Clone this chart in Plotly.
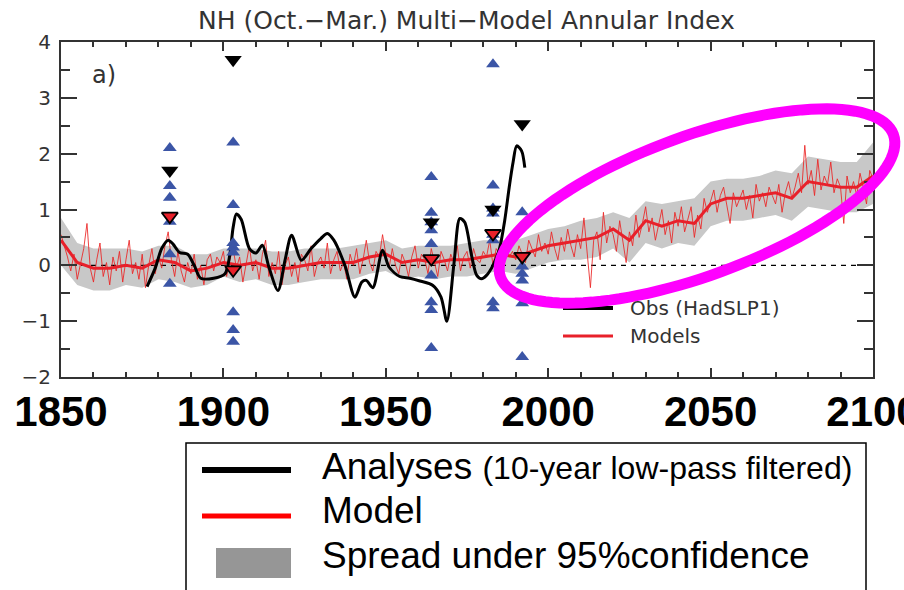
import math
import plotly.graph_objects as go

# ---------------- data ----------------
years_annual = list(range(1850, 2101))
model_annual = [
    0.55, 0.35, 0.15, -0.10, 0.20, -0.25, 0.05, 0.30, 0.75, -0.05,
    -0.30, 0.10, 0.40, -0.20, 0.05, -0.35, 0.15, -0.10, 0.25, -0.30,
    0.10, 0.45, -0.15, 0.05, -0.25, 0.20, -0.40, 0.00, 0.30, -0.15,
    0.15, -0.05, 0.35, 0.60, 0.10, -0.20, 0.25, -0.10, -0.30, 0.05,
    -0.15, 0.20, -0.25, 0.00, -0.35, 0.10, 0.20, -0.10, 0.15, 0.05,
    0.25, -0.20, 0.10, 0.30, -0.05, 0.15, -0.30, 0.05, 0.35, -0.10,
    0.10, -0.25, 0.20, 0.45, -0.20, 0.05, -0.15, 0.25, -0.35, 0.00,
    0.15, -0.20, 0.05, -0.30, 0.20, 0.10, -0.10, 0.35, -0.20, 0.05,
    0.15, -0.05, 0.40, -0.15, 0.10, 0.25, -0.10, 0.05, -0.25, 0.20,
    0.00, 0.30, -0.15, 0.10, 0.45, 0.05, -0.10, 0.25, 0.15, 0.55,
    0.20, -0.05, 0.30, 0.00, -0.15, 0.20, 0.05, -0.20, 0.15, 0.35,
    -0.05, 0.20, 0.10, -0.15, 0.30, 0.05, -0.20, 0.25, 0.10, -0.10,
    0.20, 0.05, 0.35, -0.10, 0.15, 0.25, -0.05, 0.30, 0.10, 0.05,
    0.25, 0.15, 0.45, 0.00, 0.30, 0.20, 0.05, 0.40, 0.15, 0.25,
    0.10, 0.35, 0.20, 0.05, 0.45, 0.30, 0.15, 0.55, 0.25, 0.40,
    0.20, 0.60, 0.30, 0.10, 0.50, 0.25, 0.65, 0.35, 0.15, 0.55,
    0.30, 0.85, 0.20, -0.40, 0.45, 0.60, 0.10, 0.95, 0.40, 0.70,
    0.55, 0.25, 0.80, 0.45, 0.05, 0.60, 0.35, 0.90, 0.50, 0.75,
    1.05, 0.60, 0.85, 0.45, 0.70, 1.00, 0.55, 0.80, 0.40, 0.95,
    0.70, 1.05, 0.60, 0.85, 1.05, 0.50, 0.90, 0.65, 1.20, 0.95,
    1.15, 1.35, 0.95, 1.25, 1.40, 1.10, 0.75, 1.30, 1.05, 1.20,
    1.35, 1.00, 1.25, 0.85, 1.45, 1.15, 1.30, 1.05, 1.40, 1.25,
    1.10, 1.45, 0.95, 1.30, 1.50, 1.20, 1.40, 1.65, 1.30, 2.15,
    1.45, 1.70, 1.25, 1.90, 1.35, 1.60, 1.45, 1.85, 1.30, 1.55,
    1.40, 0.75, 1.60, 1.30, 1.50, 1.25, 1.65, 1.40, 1.10, 1.70,
    1.55,
]

years5 = list(range(1850, 2101, 5))
model_smooth = [
    0.45, 0.05, -0.05, -0.05, 0.00, -0.05, 0.10, 0.05, -0.10, -0.05,
    0.05, 0.00, 0.05, -0.05, -0.05, 0.00, 0.05, 0.05, 0.05, 0.15,
    0.20, 0.05, 0.10, 0.05, 0.10, 0.10, 0.15, 0.20, 0.15, 0.25,
    0.35, 0.40, 0.45, 0.50, 0.65, 0.45, 0.80, 0.70, 0.80, 0.75,
    1.10, 1.20, 1.20, 1.25, 1.30, 1.20, 1.50, 1.45, 1.40, 1.40,
    1.60,
]
band_upper = [
    0.85, 0.40, 0.30, 0.30, 0.30, 0.25, 0.35, 0.35, 0.20, 0.20,
    0.30, 0.30, 0.30, 0.25, 0.25, 0.30, 0.30, 0.30, 0.35, 0.40,
    0.45, 0.30, 0.35, 0.35, 0.35, 0.40, 0.45, 0.45, 0.45, 0.55,
    0.65, 0.70, 0.80, 0.85, 0.95, 0.85, 1.15, 1.10, 1.15, 1.20,
    1.50, 1.55, 1.55, 1.60, 1.70, 1.65, 1.95, 1.90, 1.85, 1.85,
    2.20,
]
band_lower = [
    0.00, -0.35, -0.45, -0.45, -0.35, -0.40, -0.25, -0.30, -0.40, -0.35,
    -0.20, -0.30, -0.25, -0.35, -0.35, -0.30, -0.25, -0.25, -0.25, -0.15,
    -0.10, -0.25, -0.20, -0.25, -0.20, -0.20, -0.15, -0.10, -0.15, -0.05,
    0.05, 0.10, 0.10, 0.15, 0.30, 0.05, 0.40, 0.30, 0.40, 0.35,
    0.70, 0.80, 0.80, 0.85, 0.90, 0.80, 1.05, 1.00, 0.95, 0.95,
    1.10,
]

obs_years = [1876.5, 1879, 1881, 1883, 1884.5, 1886.5, 1889, 1891, 1893, 1897,
             1900.5, 1902, 1903, 1904, 1905.5, 1908, 1910, 1912, 1914, 1916.8,
             1919, 1921, 1924, 1927, 1930, 1932, 1934, 1937.4, 1940.5, 1942.6,
             1944, 1946, 1949, 1951, 1954.3, 1957.4, 1960.5, 1964.5, 1967, 1968.8,
             1971, 1972.8, 1974.3, 1976.5, 1978, 1979.5, 1981, 1983, 1985, 1986.6,
             1988, 1989.2, 1990.3, 1991.8, 1992.8]
obs_vals = [-0.38, -0.05, 0.30, 0.45, 0.38, 0.23, 0.20, 0.00, -0.23, -0.23,
            -0.15, 0.20, 0.68, 0.92, 0.82, 0.30, 0.22, 0.36, -0.03, -0.45,
            0.10, 0.54, 0.09, 0.30, 0.48, 0.57, 0.45, 0.00, -0.57, -0.30,
            -0.27, -0.40, 0.27, -0.03, -0.20, -0.23, -0.28, -0.36, -0.57, -1.00,
            0.04, 0.84, 0.77, 0.15, -0.18, -0.24, -0.18, 0.00, 0.30, 0.80,
            1.40, 1.85, 2.14, 2.05, 1.75]

blue_years = ([1883.5] * 6 + [1903] * 8 + [1964] * 9 + [1983] * 8 + [1992] * 6)
blue_vals = [2.10, 1.42, 1.21, 0.78, 0.20, -0.33,
             2.20, 1.08, 0.40, 0.32, 0.23, -0.84, -1.16, -1.37,
             1.58, 0.94, 0.77, 0.63, 0.38, -0.18, -0.66, -0.80, -1.48,
             3.60, 1.43, 1.02, 0.93, 0.45, -0.66, -0.77, 0.55,
             0.95, -0.02, -0.15, -0.27, -0.68, -1.64]
black_years = [1883.5, 1903, 1964, 1983, 1992]
black_vals = [1.70, 3.68, 0.77, 1.00, 2.53]
red_years = [1883.5, 1903, 1964, 1983, 1992]
red_vals = [0.88, -0.08, 0.12, 0.57, 0.16]

xtick_vals = [1850, 1900, 1950, 2000, 2050, 2100]
xtick_text = ["1850", "1900", "1950", "2000", "2050", "2100"]
ytick_vals = [-2, -1, 0, 1, 2, 3, 4]
ytick_text = ["\u22122", "\u22121", "0", "1", "2", "3", "4"]

# ---------------- layout helpers (pixel -> paper) ----------------
W, H = 904, 590
L, R, T, B = 61, 873, 42, 377


def px(x):
    return (x - L) / (R - L)


def py(y):
    return (B - y) / (B - T)


RED = "#e8202a"
BLUE = "#3b55a6"
TXT = "#333333"

fig = go.Figure()

# gray spread band
fig.add_trace(go.Scatter(
    x=years5 + years5[::-1], y=band_upper + band_lower[::-1],
    fill="toself", fillcolor="#c8c8c8", line=dict(width=0),
    mode="lines", hoverinfo="skip", showlegend=False))

# zero dashed line
fig.add_trace(go.Scatter(
    x=[xtick_vals[0], xtick_vals[-1]], y=[0, 0], mode="lines",
    line=dict(color="black", width=1.2, dash="5px,5px"),
    hoverinfo="skip", showlegend=False))

# annual model line
fig.add_trace(go.Scatter(
    x=years_annual, y=model_annual, mode="lines",
    line=dict(color="rgba(235,35,35,0.85)", width=1),
    showlegend=False))

# smoothed model line
fig.add_trace(go.Scatter(
    x=years5, y=model_smooth, mode="lines",
    line=dict(color=RED, width=3), showlegend=False))

# observations
fig.add_trace(go.Scatter(
    x=obs_years, y=obs_vals, mode="lines",
    line=dict(color="black", width=3, shape="spline", smoothing=0.8),
    showlegend=False))

# triangles
fig.add_trace(go.Scatter(
    x=blue_years, y=blue_vals, mode="markers",
    marker=dict(symbol="triangle-up", size=12, color=BLUE, line=dict(width=0)),
    showlegend=False))
fig.add_trace(go.Scatter(
    x=black_years, y=black_vals, mode="markers",
    marker=dict(symbol="triangle-down", size=15, color="black", line=dict(width=0)),
    showlegend=False))
fig.add_trace(go.Scatter(
    x=red_years, y=red_vals, mode="markers",
    marker=dict(symbol="triangle-down", size=14, color=RED,
                line=dict(width=1.8, color="black")),
    showlegend=False))

shapes = []
annotations = []

# inner legend (Obs / Models)
shapes.append(dict(type="line", xref="paper", yref="paper",
                   x0=px(563), x1=px(613), y0=py(308), y1=py(308),
                   line=dict(color="black", width=4)))
shapes.append(dict(type="line", xref="paper", yref="paper",
                   x0=px(563), x1=px(613), y0=py(336), y1=py(336),
                   line=dict(color=RED, width=3)))
annotations.append(dict(text="Obs (HadSLP1)", xref="paper", yref="paper",
                        x=px(628), y=py(308), xanchor="left", yanchor="middle",
                        showarrow=False,
                        font=dict(family="DejaVu Sans", size=20, color=TXT)))
annotations.append(dict(text="Models", xref="paper", yref="paper",
                        x=px(628), y=py(336), xanchor="left", yanchor="middle",
                        showarrow=False,
                        font=dict(family="DejaVu Sans", size=20, color=TXT)))

# magenta ellipse (highlight)
cx, cy, ea, eb, th = 697, 206, 209, 70, math.radians(20)
pts = []
for i in range(121):
    t = 2 * math.pi * i / 120
    xx = cx + ea * math.cos(th) * math.cos(t) - eb * math.sin(th) * math.sin(t)
    yy = cy - (ea * math.sin(th) * math.cos(t) + eb * math.cos(th) * math.sin(t))
    pts.append((px(xx), py(yy)))
path = "M " + " L ".join(f"{a:.5f},{b:.5f}" for a, b in pts) + " Z"
shapes.append(dict(type="path", xref="paper", yref="paper", path=path,
                   line=dict(color="#ff00ff", width=11), layer="above"))

# outer legend box
shapes.append(dict(type="rect", xref="paper", yref="paper",
                   x0=px(186), x1=px(866), y0=py(605), y1=py(443),
                   line=dict(color="black", width=1.5), fillcolor="white"))
shapes.append(dict(type="line", xref="paper", yref="paper",
                   x0=px(202), x1=px(291), y0=py(470), y1=py(470),
                   line=dict(color="black", width=6)))
shapes.append(dict(type="line", xref="paper", yref="paper",
                   x0=px(202), x1=px(291), y0=py(516), y1=py(516),
                   line=dict(color="#ff0000", width=5)))
shapes.append(dict(type="rect", xref="paper", yref="paper",
                   x0=px(216), x1=px(291), y0=py(578), y1=py(548),
                   line=dict(width=0), fillcolor="#969696"))
LF = dict(family="Liberation Sans", size=37, color="black")
annotations.append(dict(
    text="Analyses <span style='font-size:32px'>(10-year low-pass filtered)</span>",
    xref="paper", yref="paper", x=px(320), y=py(467), xanchor="left",
    yanchor="middle", showarrow=False, font=LF))
annotations.append(dict(text="Model", xref="paper", yref="paper",
                        x=px(320), y=py(511), xanchor="left", yanchor="middle",
                        showarrow=False, font=LF))
annotations.append(dict(text="Spread under 95%confidence", xref="paper", yref="paper",
                        x=px(320), y=py(555), xanchor="left", yanchor="middle",
                        showarrow=False, font=LF))

# title and panel label
annotations.append(dict(text="NH (Oct.\u2212Mar.) Multi\u2212Model Annular Index",
                        xref="paper", yref="paper", x=px(466), y=py(21),
                        xanchor="center", yanchor="middle", showarrow=False,
                        font=dict(family="DejaVu Sans", size=25, color=TXT)))
annotations.append(dict(text="a)", xref="paper", yref="paper", x=px(90), y=py(75),
                        xanchor="left", yanchor="middle", showarrow=False,
                        font=dict(family="DejaVu Sans", size=24, color=TXT)))

fig.update_layout(
    width=W, height=H, autosize=False,
    margin=dict(l=L, r=W - R, t=T, b=H - B, pad=0),
    paper_bgcolor="white", plot_bgcolor="white",
    shapes=shapes, annotations=annotations,
    showlegend=False,
)
fig.update_xaxes(
    range=[1850, 2100], tickmode="array", tickvals=xtick_vals, ticktext=xtick_text,
    tickfont=dict(family="Liberation Sans", size=42, color="black", weight="bold"),
    ticks="inside", ticklen=9, tickwidth=1.5, tickcolor=TXT,
    minor=dict(dtick=10, ticklen=5, tickwidth=1.5, tickcolor=TXT, ticks="inside"),
    showline=True, linecolor=TXT, linewidth=2, mirror="ticks",
    showgrid=False, zeroline=False, ticklabelstandoff=-3,
    ticklabeloverflow="allow", automargin=False,
)
fig.update_yaxes(
    range=[-2, 4], tickmode="array", tickvals=ytick_vals, ticktext=ytick_text,
    tickfont=dict(family="DejaVu Sans", size=20, color=TXT),
    ticks="inside", ticklen=16, tickwidth=1.5, tickcolor=TXT,
    minor=dict(dtick=0.5, ticklen=9, tickwidth=1.5, tickcolor=TXT, ticks="inside"),
    showline=True, linecolor=TXT, linewidth=2, mirror="ticks",
    showgrid=False, zeroline=False, ticklabelstandoff=4, automargin=False,
)

fig.write_html("out.html")
